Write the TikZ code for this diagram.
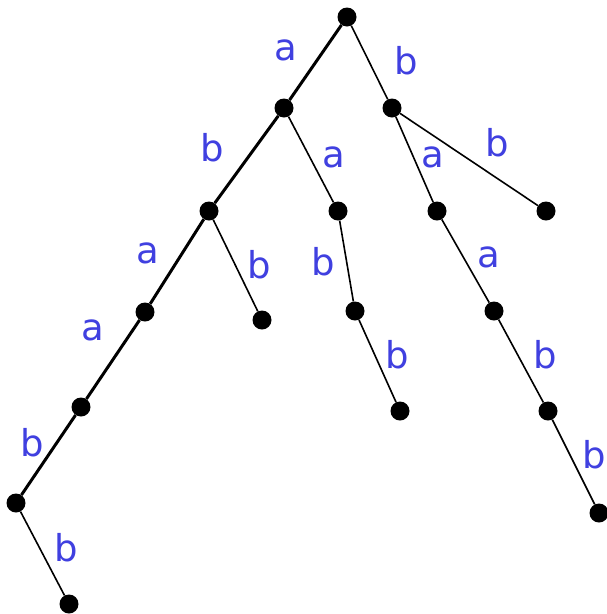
\documentclass[tikz,border=0pt]{standalone}
\usepackage{fontspec}
\setmainfont{DejaVu Sans}
\definecolor{lblblue}{RGB}{64,64,224}

\begin{document}
\begin{tikzpicture}[x=1pt,y=-1pt,
  dot/.style={circle,fill=black,inner sep=0pt,minimum size=19pt},
  lbl/.style={text=lblblue,inner sep=0pt,font=\fontsize{37}{44}\selectfont},
  thinedge/.style={line width=1.6pt},
  mainpath/.style={line width=3pt}]
  \useasboundingbox (0,0) rectangle (607,614);
  % vertices of the tree
  \foreach \n/\x/\y in {r/347/17, na/284/108, nb/392/108, nab/209/211, naa/338/211,
      nba/437/211, nbb/546/211, naba/145/312, nabb/262/320, naab/355/311,
      nbaa/494/311, nabaa/81/407, naabb/400/411, nbaab/548/411,
      nabaab/16/503, nbaabb/599/513, nabaabb/69/604}
    \node[dot] (\n) at (\x,\y) {};
  % edge letters
  \foreach \n/\x/\y/\t in {la/286/50/a, lb/406/61/b, lab/212/148/b, laa/334/157/a,
      lba/433/157/a, lbb/497/143/b, laba/148/253/a, labb/259/265/b, laab/323/262/b,
      lbaa/489/257/a, labaa/93/330/a, laabb/397/355/b, lbaab/545/355/b,
      labaab/32/443/b, lbaabb/594/455/b, labaabb/66/548/b}
    \node[lbl] (\n) at (\x,\y) {\t};
  \draw[mainpath] (r) -- (na) -- (nab) -- (naba) -- (nabaa) -- (nabaab);
  \draw[thinedge] (r) -- (nb) -- (nba) -- (nbaa) -- (nbaab) -- (nbaabb);
  \draw[thinedge] (nb) -- (nbb);
  \draw[thinedge] (na) -- (naa) -- (naab) -- (naabb);
  \draw[thinedge] (nab) -- (nabb);
  \draw[thinedge] (nabaab) -- (nabaabb);
\end{tikzpicture}
\end{document}
